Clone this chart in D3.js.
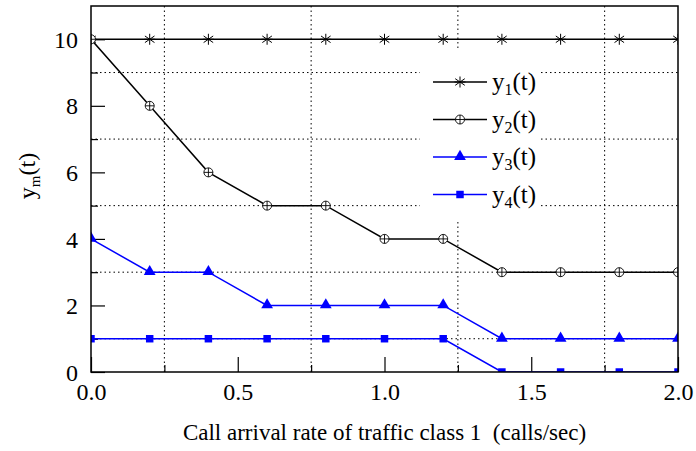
<!DOCTYPE html>
<html>
<head>
<meta charset="utf-8">
<script src="https://cdn.jsdelivr.net/npm/d3@7"></script>
<style>
  body { margin: 0; background: #fff; }
  text { font-family: "Liberation Serif", "Times New Roman", serif; fill: #000; }
</style>
</head>
<body>
<svg id="chart" width="696" height="451"></svg>
<script>
// data
var rates = [0, 0.2, 0.4, 0.6, 0.8, 1.0, 1.2, 1.4, 1.6, 1.8, 2.0];
var y1 = [10, 10, 10, 10, 10, 10, 10, 10, 10, 10, 10];
var y2 = [10, 8, 6, 5, 5, 4, 4, 3, 3, 3, 3];
var y3 = [4, 3, 3, 2, 2, 2, 2, 1, 1, 1, 1];
var y4 = [1, 1, 1, 1, 1, 1, 1, 0, 0, 0, 0];
var seriesNames = ["1", "2", "3", "4"];
var xTicks = [0, 0.5, 1.0, 1.5, 2.0];
var xMinor = [0.25, 0.75, 1.25, 1.75];
var yTicks = [0, 2, 4, 6, 8, 10];
var yMinor = [1, 3, 5, 7, 9];

var m = {left: 91, right: 18, top: 6, bottom: 79};
var W = 696, H = 451;
var w = W - m.left - m.right, h = H - m.top - m.bottom;

var x = d3.scaleLinear().domain([0, 2]).range([0, w]);
var y = d3.scaleLinear().domain([0, 11]).range([h, 0]);

var svg = d3.select("#chart");
var g = svg.append("g").attr("transform", "translate(" + m.left + "," + m.top + ")");

svg.append("defs").append("clipPath").attr("id", "clip")
  .append("rect").attr("width", w).attr("height", h);

// dotted grid on the minor positions
g.selectAll(".vg").data(xMinor).enter().append("line")
  .attr("x1", d => x(d)).attr("x2", d => x(d)).attr("y1", 0).attr("y2", h)
  .attr("stroke", "#000").attr("stroke-width", 1).attr("stroke-dasharray", "1.5,3");
g.selectAll(".hg").data(yMinor).enter().append("line")
  .attr("y1", d => y(d)).attr("y2", d => y(d)).attr("x1", 0).attr("x2", w)
  .attr("stroke", "#000").attr("stroke-width", 1).attr("stroke-dasharray", "1.5,3");

// legend background clears the grid
var lgX = 420 - m.left, lgY = 50 - m.top;
g.append("rect").attr("x", lgX).attr("y", lgY).attr("width", 118).attr("height", 172).attr("fill", "#fff");

// axes
var xAxis = d3.axisBottom(x).tickValues(xTicks).tickFormat(d3.format(".1f")).tickSize(-15).tickPadding(11);
var xAxisMinor = d3.axisBottom(x).tickValues(xMinor).tickFormat("").tickSize(-7);
var yAxis = d3.axisLeft(y).tickValues(yTicks).tickFormat(d3.format("d")).tickSize(-14).tickPadding(13);
var yAxisMinor = d3.axisLeft(y).tickValues(yMinor).tickFormat("").tickSize(-7);

function styleAxis(sel) {
  sel.select(".domain").remove();
  sel.selectAll("line").attr("stroke", "#000").attr("stroke-width", 1.2);
  sel.selectAll("text").style("font-size", "24px").attr("fill", "#000");
}
g.append("g").attr("transform", "translate(0," + h + ")").call(xAxis).call(styleAxis);
g.append("g").attr("transform", "translate(0," + h + ")").call(xAxisMinor).call(styleAxis);
g.append("g").call(yAxis).call(styleAxis).selectAll("text").attr("dy", "0.34em");
g.append("g").call(yAxisMinor).call(styleAxis);

// markers
function starPath(r) {
  var a = r * 0.87, b = r * 0.6;
  return "M0," + (-r) + "L0," + r + "M" + (-a) + "," + (-b) + "L" + a + "," + b +
         "M" + (-a) + "," + b + "L" + a + "," + (-b) + "M" + (-r) + ",0L" + r + ",0";
}
function drawMarker(sel, kind, color) {
  if (kind === "star") {
    sel.append("path").attr("d", starPath(5.5)).attr("stroke", color).attr("stroke-width", 1).attr("fill", "none");
  } else if (kind === "ocross") {
    sel.append("circle").attr("r", 4.5).attr("fill", "#fff").attr("stroke", color).attr("stroke-width", 0.9);
    sel.append("path").attr("d", "M-4.5,0L4.5,0M0,-4.5L0,4.5").attr("stroke", color).attr("stroke-width", 0.9);
  } else if (kind === "tri") {
    sel.append("path").attr("d", d3.symbol(d3.symbolTriangle, 60)()).attr("fill", color).attr("transform", "translate(0,-0.5)");
  } else {
    sel.append("path").attr("d", d3.symbol(d3.symbolSquare, 56)()).attr("fill", color);
  }
}

var series = [
  {vals: y1, color: "#000", kind: "star"},
  {vals: y2, color: "#000", kind: "ocross"},
  {vals: y3, color: "#0000ff", kind: "tri"},
  {vals: y4, color: "#0000ff", kind: "sq"}
];

var plot = g.append("g").attr("clip-path", "url(#clip)");
var line = d3.line().x(d => x(d[0])).y(d => y(d[1]));

series.forEach(function(s) {
  var pts = rates.map((r, i) => [r, s.vals[i]]);
  plot.append("path").datum(pts).attr("d", line)
    .attr("fill", "none").attr("stroke", s.color).attr("stroke-width", 1.5);
  plot.selectAll(null).data(pts).enter().append("g")
    .attr("transform", d => "translate(" + x(d[0]) + "," + y(d[1]) + ")")
    .each(function() { drawMarker(d3.select(this), s.kind, s.color); });
});

// frame
g.append("rect").attr("width", w).attr("height", h).attr("fill", "none").attr("stroke", "#000").attr("stroke-width", 1.5);

// legend
series.forEach(function(s, i) {
  var ly = 82 - m.top + i * 37.5;
  var lg = g.append("g").attr("transform", "translate(" + (433 - m.left) + "," + ly + ")");
  lg.append("line").attr("x1", 0).attr("x2", 54).attr("stroke", s.color).attr("stroke-width", 1.5);
  var mk = lg.append("g").attr("transform", "translate(27,0)");
  drawMarker(mk, s.kind, s.color);
  var t = lg.append("text").attr("x", 59).attr("y", 8).style("font-size", "25px");
  t.append("tspan").text("y");
  t.append("tspan").attr("dy", 5).style("font-size", "16px").text(seriesNames[i]);
  t.append("tspan").attr("dy", -5).text("(t)");
});

// axis titles
svg.append("text").attr("x", m.left + w / 2).attr("y", 440).attr("text-anchor", "middle")
  .style("font-size", "23px").attr("xml:space", "preserve")
  .text("Call arrival rate of traffic class 1  (calls/sec)");

var yt = svg.append("text").attr("transform", "translate(35,176) rotate(-90)")
  .attr("text-anchor", "middle").style("font-size", "24px");
yt.append("tspan").text("y");
yt.append("tspan").attr("dy", 5).style("font-size", "15px").text("m");
yt.append("tspan").attr("dy", -5).text("(t)");
</script>
</body>
</html>
